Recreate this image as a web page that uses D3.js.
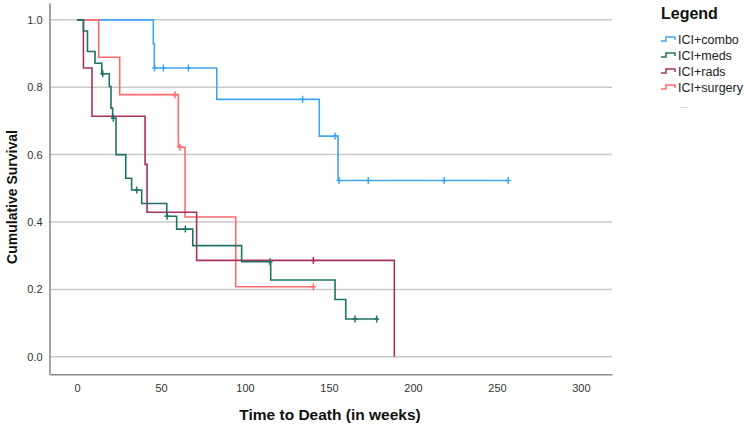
<!DOCTYPE html>
<html>
<head>
<meta charset="utf-8">
<script src="https://cdn.jsdelivr.net/npm/d3@7"></script>
<style>
  html, body { margin: 0; padding: 0; background: #fff; }
  svg { display: block; font-family: "Liberation Sans", Arial, sans-serif; }
</style>
</head>
<body>
<svg id="chart" width="744" height="427"></svg>
<script>
// ---- data (time in weeks, cumulative survival) ----
const groups = ["ICI+combo", "ICI+meds", "ICI+rads", "ICI+surgery"];
const colors = ["#3ea6f2", "#1f7268", "#a8305e", "#ff6b6b"];

const comboTimes = [0, 45.4, 46.0, 83.2, 144.2, 155.4];
const comboSurv  = [1, 0.929, 0.857, 0.764, 0.655, 0.523];
const comboCens  = [46.2, 51.4, 66.3, 134.3, 153.6, 156.0, 173.4, 218.6, 256.7];

const medsTimes = [0, 3.8, 6.2, 10.7, 14.7, 19.2, 20.2, 21.2, 23.2, 29.0, 32.5, 38.5, 53.4, 59.3, 68.9, 98.0, 115.3, 153.6, 160.0];
const medsSurv  = [1, 0.967, 0.906, 0.871, 0.840, 0.802, 0.738, 0.708, 0.600, 0.530, 0.495, 0.455, 0.417, 0.379, 0.330, 0.282, 0.228, 0.170, 0.112];
const medsCens  = [15.3, 21.6, 35.5, 53.6, 64.5, 114.9, 165.5, 178.4];

const radsTimes = [0, 3.8, 8.9, 40.5, 41.7, 71.2, 188.9];
const radsSurv  = [1, 0.857, 0.714, 0.571, 0.429, 0.286, 0];
const radsCens  = [140.7];

const surgTimes = [0, 12.9, 25.4, 60.3, 64.3, 94.5];
const surgSurv  = [1, 0.889, 0.778, 0.622, 0.415, 0.208];
const surgCens  = [58.3, 61.3, 140.7];

const xTicks = [0, 50, 100, 150, 200, 250, 300];
const yTicks = [0.0, 0.2, 0.4, 0.6, 0.8, 1.0];

const xTitle = "Time to Death (in weeks)";
const yTitle = "Cumulative Survival";
const legendTitle = "Legend";

// ---- build series ----
const series = [
  {name: groups[0], color: colors[0], times: comboTimes, surv: comboSurv, cens: comboCens},
  {name: groups[1], color: colors[1], times: medsTimes,  surv: medsSurv,  cens: medsCens},
  {name: groups[2], color: colors[2], times: radsTimes,  surv: radsSurv,  cens: radsCens},
  {name: groups[3], color: colors[3], times: surgTimes,  surv: surgSurv,  cens: surgCens}
];

const svg = d3.select("#chart");
const x = d3.scaleLinear().domain([-16.4, 318.5]).range([49.5, 612]);
const y = d3.scaleLinear().domain([-0.052, 1.05]).range([374.3, 3]);

// gridlines
svg.append("g").selectAll("line").data(yTicks).join("line")
  .attr("x1", x.range()[0]).attr("x2", x.range()[1])
  .attr("y1", d => y(d)).attr("y2", d => y(d))
  .attr("stroke", "#c9c9c9").attr("stroke-width", 1.5);

// axes
const xAxis = svg.append("g").attr("transform", `translate(0,${y.range()[0]})`)
  .call(d3.axisBottom(x).tickValues(xTicks).tickSize(0).tickSizeOuter(0).tickPadding(10).tickFormat(d3.format("d")));
const yAxis = svg.append("g").attr("transform", `translate(${x.range()[0]},0)`)
  .call(d3.axisLeft(y).tickValues(yTicks).tickSize(0).tickSizeOuter(0).tickPadding(7).tickFormat(d3.format(".1f")));
[xAxis, yAxis].forEach(g => {
  g.select(".domain").attr("stroke", "#8c8c8c").attr("stroke-width", 1.6);
  g.selectAll("text").attr("font-size", 11).attr("fill", "#333").attr("font-family", "Liberation Sans, Arial, sans-serif");
});

// step function helper
function survAt(s, t) {
  let v = s.surv[0];
  for (let i = 0; i < s.times.length; i++) if (s.times[i] <= t) v = s.surv[i];
  return v;
}
function stepPoints(s) {
  const pts = [];
  for (let i = 0; i < s.times.length; i++) {
    if (i > 0) pts.push([s.times[i], s.surv[i - 1]]);
    pts.push([s.times[i], s.surv[i]]);
  }
  const lastT = s.times[s.times.length - 1];
  const maxC = s.cens.length ? d3.max(s.cens) : lastT;
  if (maxC > lastT) pts.push([maxC, s.surv[s.surv.length - 1]]);
  return pts;
}

const line = d3.line().x(d => x(d[0])).y(d => y(d[1]));
const drawOrder = [0, 3, 2, 1];
drawOrder.forEach(k => {
  const s = series[k];
  const g = svg.append("g");
  g.append("path").datum(stepPoints(s)).attr("d", line)
    .attr("fill", "none").attr("stroke", s.color).attr("stroke-width", 1.6);
  g.selectAll("path.c").data(s.cens).join("path").attr("class", "c")
    .attr("d", t => {
      const cx = x(t), cy = y(survAt(s, t));
      return `M${cx},${cy - 3.5}V${cy + 3.5}M${cx - 2.5},${cy}H${cx + 2.5}`;
    })
    .attr("stroke", s.color).attr("stroke-width", 1.5).attr("fill", "none");
});

// axis titles
svg.append("text").attr("x", 330).attr("y", 420).attr("text-anchor", "middle")
  .attr("font-size", 15.5).attr("font-weight", "bold").attr("fill", "#111").text(xTitle);
svg.append("text").attr("transform", "translate(17,197) rotate(-90)").attr("text-anchor", "middle")
  .attr("font-size", 14).attr("font-weight", "bold").attr("fill", "#111").text(yTitle);

// legend
svg.append("text").attr("x", 661).attr("y", 19).attr("font-size", 16).attr("font-weight", "bold")
  .attr("fill", "#111").text(legendTitle);
const lg = svg.append("g").selectAll("g").data(series).join("g")
  .attr("transform", (d, i) => `translate(661,${39 + i * 16})`);
lg.append("path").attr("d", "M0,2H5V-2H14V1").attr("fill", "none")
  .attr("stroke", d => d.color).attr("stroke-width", 1.5);
lg.append("text").attr("x", 17).attr("y", 4.5).attr("font-size", 12.5).attr("fill", "#222").text(d => d.name);
svg.append("text").attr("x", 680).attr("y", 108).attr("font-size", 9).attr("fill", "#999").text("...");
</script>
</body>
</html>
